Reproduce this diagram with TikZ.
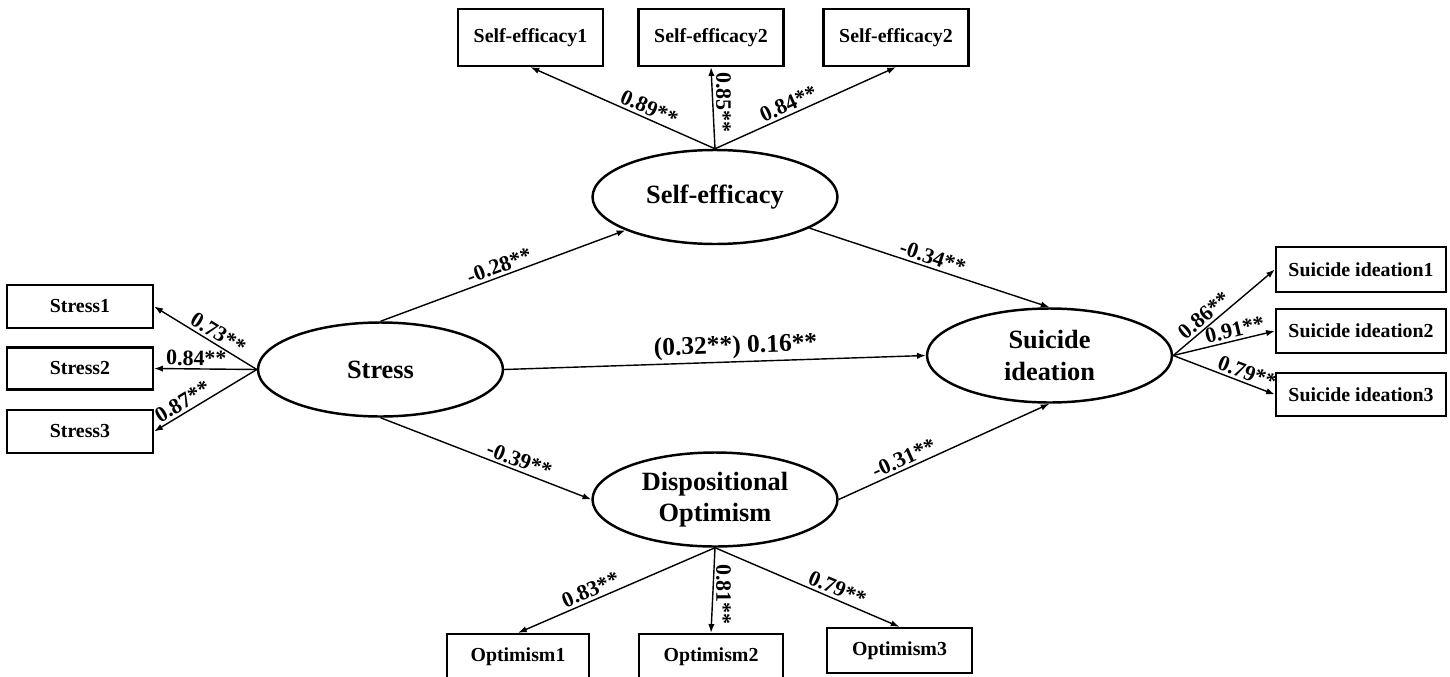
\documentclass[tikz,border=0pt]{standalone}
\usepackage{fontspec}
\setmainfont{Liberation Serif}
\usetikzlibrary{shapes.geometric,arrows.meta}

\begin{document}
\begin{tikzpicture}[
    x=0.02cm, y=-0.02cm,
    arr/.style={line width=0.8pt, draw=black, -{Latex[length=5pt,width=3.6pt]}},
    box/.style={
        rectangle,
        minimum width=2.9cm,
        minimum height=1.14cm,
        draw=black,
        line width=1.3pt,
        inner sep=0pt,
        font=\fontsize{11.3}{13}\selectfont\bfseries,
      },
    lat/.style={
        ellipse,
        minimum width=4.9cm,
        minimum height=1.88cm,
        draw=black,
        line width=1.4pt,
        inner sep=0pt,
        align=center,
        font=\fontsize{15}{17.8}\selectfont\bfseries,
      },
    lab/.style={font=\fontsize{12.5}{14}\selectfont\bfseries, inner sep=1.5pt},
    ma/.style={lab, sloped, above},
    mv/.style={lab, rotate=-90, anchor=south},
  ]
  \useasboundingbox (0,0) rectangle (1450,676);

  % latent variables
  \node[lat] (st) at (380.5,369.5) {Stress};
  \node[lat] (se) at (715,197) {Self-efficacy};
  \node[lat] (op) at (715,499.5) {Dispositional\\Optimism};
  \node[lat] (si) at (1049.5,355.5) {Suicide\\ideation};

  % indicators
  \node[box] (se1) at (530.5,37.5) {Self-efficacy1};
  \node[box] (se2) at (711,37.5) {Self-efficacy2};
  \node[box] (se3) at (896,37.5) {Self-efficacy2};

  \node[box, minimum width=2.92cm, minimum height=0.86cm] (st1) at (80,306.5) {Stress1};
  \node[box, minimum width=2.92cm, minimum height=0.84cm] (st2) at (80,368.5) {Stress2};
  \node[box, minimum width=2.92cm, minimum height=0.86cm] (st3) at (80,431.5) {Stress3};

  \node[box, minimum width=3.4cm, minimum height=0.9cm] (si1) at (1361,269.5) {Suicide ideation1};
  \node[box, minimum width=3.4cm, minimum height=0.88cm] (si2) at (1361,331) {Suicide ideation2};
  \node[box, minimum width=3.4cm, minimum height=0.86cm] (si3) at (1361,394.5) {Suicide ideation3};

  \node[box, minimum width=2.84cm, minimum height=0.9cm] (op1) at (518,656.5) {Optimism1};
  \node[box, minimum width=2.88cm, minimum height=0.9cm] (op2) at (711,656.5) {Optimism2};
  \node[box, minimum width=2.9cm, minimum height=0.9cm] (op3) at (899.5,650.5) {Optimism3};

  % structural paths
  \draw[arr] (st.north) -- node[ma, pos=.5] {-0.28**} (se);
  \draw[arr] (se) -- node[ma, pos=.5] {-0.34**} (si.north);
  \draw[arr] (st.east) -- node[ma, pos=.55, font=\fontsize{14.5}{16}\selectfont\bfseries] {(0.32**) 0.16**} (si.west);
  \draw[arr] (st.south) -- node[ma, pos=.64] {-0.39**} (op.west);
  \draw[arr] (op.east) -- node[ma, pos=.33] {-0.31**} (si.south);

  % loadings
  \draw[arr] (se.north) -- node[ma, pos=.38] {0.89**} (se1.south);
  \draw[arr] (se.north) -- node[mv, pos=.57] {0.85**} (se2.south);
  \draw[arr] (se.north) -- node[ma, pos=.43] {0.84**} (se3.south);

  \draw[arr] (st.west) -- node[ma, pos=.43] {0.73**} (st1.east);
  \draw[arr] (st.west) -- node[ma, pos=.59] {0.84**} (st2.east);
  \draw[arr] (st.west) -- node[ma, pos=.67] {0.87**} (st3.east);

  \draw[arr] (si.east) -- node[ma, pos=.37] {0.86**} (si1.west);
  \draw[arr] (si.east) -- node[ma, pos=.63] {0.91**} (si2.west);
  \draw[arr] (si.east) -- node[ma, pos=.69] {0.79**} (si3.west);

  \draw[arr] (op.south) -- node[ma, pos=.61] {0.83**} (op1.north);
  \draw[arr] (op.south) -- node[mv, pos=.55] {0.81**} (op2.north);
  \draw[arr] (op.south) -- node[ma, pos=.64] {0.79**} (op3.north);
\end{tikzpicture}
\end{document}
